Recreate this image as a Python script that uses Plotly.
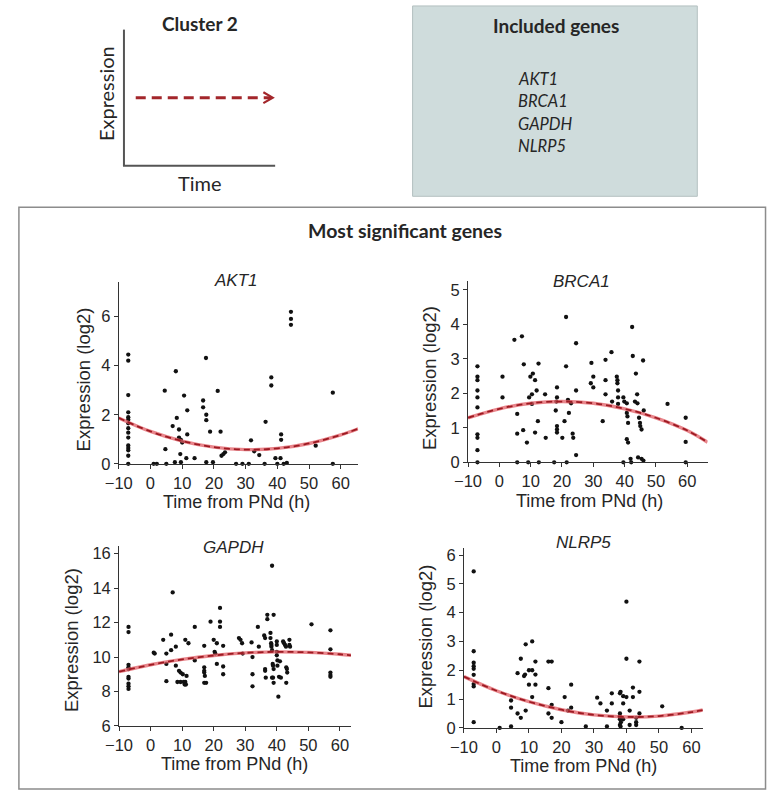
import plotly.graph_objects as go

W, H = 767, 801


def fx(p):
    return p / W


def fy(p):
    return 1 - p / H


# ---------------- data ----------------
gene_list = ["AKT1", "BRCA1", "GAPDH", "NLRP5"]
x_ticks = [-10, 0, 10, 20, 30, 40, 50, 60]

akt1_time = [-7] * 15 + [
    1, 2, 4.5, 4.7, 5, 7, 8, 8.3, 7.7, 9, 9, 9.6, 9.4, 9.6, 10.6, 10, 11.6, 11.6, 11.3,
    13.9, 16.6, 16.6, 17.5, 17.6, 17.6, 18.8, 17.6, 19.7, 21.2, 22.1, 22.4, 23, 23.5,
    27, 29, 31, 31.7, 32.7, 34.3, 36, 36.3, 38.1, 38.1, 39.4, 40, 41, 41.2, 41.2, 42, 43,
    44.3, 44.3, 44.3, 52.1, 57.5, 57.5]
akt1_expr = [4.45, 4.2, 2.8, 2.1, 1.9, 1.8, 1.65, 1.45, 1.27, 1.07, 0.75, 0.65, 0.55, 0.33, 0] + [
    0, 0, 2.98, 0.6, 0, 1.54, 3.77, 1.87, 0.07, 1.4, 1.07, 0.98, 0.4, 0.07, 2.78, 0.87, 2.18, 1.2, 0.23,
    0.23, 2.58, 2.3, 4.31, 2.0, 1.78, 1.31, 0.07, 0.07, 2.97, 1.31, 0.33, 0.4, 0.47,
    0, 0, 0, 0.96, 0.51, 0.36, 0, 1.71, 3.52, 3.19, 0.23, 0, 0.23, 1.2, 0.98, 0, 0.04,
    6.19, 5.9, 5.66, 0.74, 2.9, 0]
akt1_fit_time = [-10, 0, 10, 20, 30, 40, 50, 60, 65.5]
akt1_fit_expr = [1.87, 1.32, 0.93, 0.68, 0.58, 0.63, 0.83, 1.18, 1.43]

brca1_time = [-7] * 10 + [
    1, 1, 4.8, 5.7, 5.7, 5.7, 7.2, 7.8, 7.6, 8.8, 9.2, 9.5, 9.9, 10.7, 10.4, 10.4, 11.4, 11.9,
    12.5, 12.3, 11.4, 12.6, 14.6, 14.8, 17.5, 18.4, 18.4, 18.2, 18, 18.4, 18.4, 18.4, 20.1,
    21.3, 21.3, 20.8, 22.2, 21.9, 22.9, 23.4, 23.6, 24.5, 24.5, 24.5, 21.5,
    29.4, 29.2, 30, 30, 33, 33.9, 33.9, 33.9, 35.8, 36, 37.5, 37.7, 37.7, 37.9, 37.9, 37.9,
    39.6, 39.9, 40.7, 40.7, 40.9, 41.1, 40.7, 41.1, 39.6, 41.9, 42.1, 42.4, 42.6, 43.3, 43.6,
    44, 44.1, 44.3, 44.6, 44.9, 45, 45.4, 45.4, 45.9, 46.1, 46, 53.7, 59.5, 59.5, 59.5]
brca1_expr = [2.78, 2.48, 2.38, 2.08, 1.88, 1.59, 0.81, 0.71, 0.35, 0] + [
    2.48, 1.88, 3.55, 1.4, 0.83, 0, 3.65, 2.84, 0.93, 0.57, 0, 1.88, 2.48, 2.57, 1.97, 1.69, 2.38, 2.08,
    2.86, 1.19, 0.86, 0, 1.97, 0.71, 0, 2.17, 1.88, 1.76, 1.5, 1.05, 0.95, 0.86, 0.71,
    4.21, 2.78, 1.19, 1.43, 1.81, 1.71, 0.83, 0.71, 3.45, 2.08, 0.21, 0,
    2.88, 2.29, 2.48, 2.17, 1.19, 2.97, 2.38, 1.97, 3.19, 1.76, 2.48, 2.38, 2.29, 2.08, 1.88, 1.69,
    1.88, 1.76, 1.71, 1.43, 1.33, 1.14, 0.67, 0.57, 0, 0.1, 0, 3.92, 3.08, 1.76, 2.57,
    1.97, 1.71, 0.14, 1.29, 1.14, 1.05, 0.95, 0.1, 2.95, 1.5, 0.05, 1.69, 1.29, 0.59, 0]
brca1_fit_time = [-10, 0, 10, 20, 30, 40, 50, 60, 66.5]
brca1_fit_expr = [1.29, 1.55, 1.71, 1.76, 1.71, 1.55, 1.29, 0.92, 0.58]

gapdh_time = [-7] * 10 + [
    1, 1.3, 4, 5, 5, 5, 6.5, 6.5, 7, 8, 8, 8.5, 9.5, 10.5, 11, 10.8, 11.2, 9, 9.5, 10.2,
    11, 11.4, 12, 14, 14, 17, 17, 17, 17, 17.2, 17, 17.6, 19, 20, 20.3, 20.5, 21, 21,
    22, 22, 22, 23, 23, 23, 28, 28.5, 29, 29.2, 32, 32.3, 32.3, 32.3, 34, 34.3,
    36, 36.3, 36.3, 36.3, 36.5, 37, 37, 38, 38, 38.2, 38.3, 38.3, 38.5, 38.5, 39,
    38.7, 38.8, 39, 38.5, 38.8, 39, 40, 40, 40, 40, 40.2, 40.2, 40.5, 40.7, 41, 41.3,
    42, 42.3, 42.6, 42.9, 43, 43.2, 43.3, 43, 44, 44, 44.2, 51, 57, 57, 57, 57, 57]
gapdh_expr = [11.75, 11.45, 9.55, 9.4, 9.3, 8.85, 8.75, 8.45, 8.3, 8.15] + [
    10.25, 10.2, 11.0, 10.2, 9.6, 8.6, 11.3, 10.4, 13.75, 10.6, 9.5, 8.55, 8.55, 8.55, 8.55, 8.4, 8.4, 9.2, 9.1, 9.0,
    11.0, 8.9, 10.8, 11.75, 9.8, 10.65, 9.4, 9.2, 9.1, 8.9, 8.5, 8.5, 12.05, 11.0, 10.3, 10.2, 10.8, 9.6,
    12.85, 12.05, 11.75, 10.65, 9.45, 9.0, 11.1, 11.0, 10.8, 10.2, 10.85, 10.0, 9.0, 8.3, 11.75, 10.6,
    11.25, 11.1, 9.3, 9.2, 8.8, 12.45, 12.2, 11.4, 11.1, 10.8, 10.7, 10.6, 10.4, 15.3, 12.45,
    9.6, 9.5, 9.3, 8.8, 8.8, 8.5, 10.9, 10.7, 10.3, 10.1, 9.8, 9.5, 7.7, 8.85, 9.75, 8.8,
    10.9, 10.8, 10.7, 10.6, 9.4, 9.3, 9.1, 8.5, 11.0, 10.7, 10.6, 11.9, 11.55, 10.45, 9.1, 8.95, 8.85]
gapdh_fit_time = [-10, 0, 10, 20, 30, 40, 50, 60, 63.5]
gapdh_fit_expr = [9.15, 9.55, 9.86, 10.09, 10.24, 10.3, 10.27, 10.16, 10.1]

nlrp5_time = [-7] * 9 + [
    1, 4.5, 4.5, 4.5, 6.5, 6.5, 7.5, 7.5, 8.5, 8.8, 9, 9, 10, 10, 11, 11, 11, 12, 12, 12,
    16, 16, 16, 17, 17, 17, 20, 21, 22, 23, 23, 27.5, 31, 32, 34, 34, 35.5, 35.5,
    38, 38.2, 38, 38, 38.2, 38, 38.3, 38, 38.2, 39, 39, 39, 40, 40, 40, 41, 41, 42, 42,
    43, 43, 43, 44, 44, 44, 51, 57]
nlrp5_expr = [5.43, 2.66, 2.26, 2.14, 2.05, 1.84, 1.52, 1.44, 0.2] + [
    0, 0.05, 0.95, 0.7, 1.9, 0.5, 2.4, 0.35, 1.8, 1.85, 2.9, 0.6, 2.0, 1.5, 3.0, 2.0, 1.07, 2.3, 1.85, 1.5,
    2.3, 1.38, 0.5, 2.3, 0.8, 0.35, 0.2, 1.07, 0.6, 1.5, 0.7, 0.05, 1.05, 0.85, 0.6, 0.05, 1.2, 0.85,
    1.2, 1.25, 0.5, 0.4, 0.35, 0.3, 0.2, 0.1, 0.05, 1.1, 0.85, 0.3, 4.38, 2.4, 1.07, 0.6, 0.1, 1.4, 1.07,
    0.35, 0.2, 0.1, 2.3, 1.25, 0.5, 0.75, 0]
nlrp5_fit_time = [-10, 0, 10, 20, 30, 40, 50, 60, 63.5]
nlrp5_fit_expr = [1.78, 1.29, 0.91, 0.63, 0.45, 0.38, 0.41, 0.55, 0.62]

akt1_yticks = [0, 2, 4, 6]
brca1_yticks = [0, 1, 2, 3, 4, 5]
gapdh_yticks = [6, 8, 10, 12, 14, 16]
nlrp5_yticks = [0, 1, 2, 3, 4, 5, 6]

# ---------------- layout of panels ----------------
AX_FONT = "Liberation Sans, Arial, sans-serif"
OFF_FONT = "Lato, Open Sans, sans-serif"
TXT = "#262626"

panels = [
    dict(name=gene_list[0], t=akt1_time, e=akt1_expr, ft=akt1_fit_time, fe=akt1_fit_expr,
         xr=[-10, 65.5], yr=[0, 7.4], yt=akt1_yticks,
         px=(106.7, 350.6), py=(284, 468.3), title=(226, 282), xt=(227, 507), yti=(71, 383)),
    dict(name=gene_list[1], t=brca1_time, e=brca1_expr, ft=brca1_fit_time, fe=brca1_fit_expr,
         xr=[-10, 66.5], yr=[0, 5.25], yt=brca1_yticks,
         px=(462.5, 706.5), py=(283, 466.7), title=(578, 283), xt=(586, 506), yti=(423, 381)),
    dict(name=gene_list[2], t=gapdh_time, e=gapdh_expr, ft=gapdh_fit_time, fe=gapdh_fit_expr,
         xr=[-10, 63.5], yr=[6, 16.45], yt=gapdh_yticks,
         px=(107, 343.2), py=(551.5, 734), title=(224, 553), xt=(225, 773), yti=(58, 647)),
    dict(name=gene_list[3], t=nlrp5_time, e=nlrp5_expr, ft=nlrp5_fit_time, fe=nlrp5_fit_expr,
         xr=[-10, 63.5], yr=[0, 6.25], yt=nlrp5_yticks,
         px=(458.3, 701.6), py=(553.4, 736), title=(580, 548), xt=(580, 775), yti=(419, 643)),
]

fig = go.Figure()
annotations = []
layout_axes = {}

for i, p in enumerate(panels, start=1):
    xa = "x" if i == 1 else f"x{i}"
    ya = "y" if i == 1 else f"y{i}"
    fig.add_trace(go.Scatter(
        x=p["t"], y=p["e"], mode="markers", xaxis=xa, yaxis=ya,
        marker=dict(size=4.3, color="#111111"), cliponaxis=False, showlegend=False,
        hoverinfo="skip"))
    fig.add_trace(go.Scatter(
        x=p["ft"], y=p["fe"], mode="lines", xaxis=xa, yaxis=ya, line_shape="spline",
        line=dict(color="rgba(226,92,100,0.75)", width=3.4), cliponaxis=False,
        showlegend=False, hoverinfo="skip"))
    fig.add_trace(go.Scatter(
        x=p["ft"], y=p["fe"], mode="lines", xaxis=xa, yaxis=ya, line_shape="spline",
        line=dict(color="#9c1a22", width=1.8, dash="6px,4px"), cliponaxis=False,
        showlegend=False, hoverinfo="skip"))
    xkey = "xaxis" if i == 1 else f"xaxis{i}"
    ykey = "yaxis" if i == 1 else f"yaxis{i}"
    common = dict(showline=True, linecolor="#333333", linewidth=1, ticks="outside",
                  ticklen=4, tickwidth=1, tickcolor="#333333", showgrid=False,
                  zeroline=False, tickfont=dict(family=AX_FONT, size=16.5, color=TXT),
                  fixedrange=True)
    layout_axes[xkey] = dict(common, domain=[fx(p["px"][0]), fx(p["px"][1])],
                             range=p["xr"], tickvals=x_ticks, anchor=ya)
    layout_axes[ykey] = dict(common, domain=[fy(p["py"][1]), fy(p["py"][0])],
                             range=p["yr"], tickvals=p["yt"], anchor=xa)
    annotations.append(dict(text=f"<i>{p['name']}</i>", x=fx(p["title"][0]), y=fy(p["title"][1]),
                            font=dict(family=AX_FONT, size=17, color=TXT)))
    annotations.append(dict(text="Time from PNd (h)", x=fx(p["xt"][0]), y=fy(p["xt"][1]),
                            font=dict(family=AX_FONT, size=18, color=TXT)))
    annotations.append(dict(text="Expression (log2)", x=fx(p["yti"][0]), y=fy(p["yti"][1]),
                            textangle=-90, font=dict(family=AX_FONT, size=18.5, color=TXT)))

# ---------------- header texts ----------------
annotations += [
    dict(text="<b>Cluster 2</b>", x=fx(189), y=fy(22), font=dict(family=OFF_FONT, size=19, color=TXT)),
    dict(text="Expression", x=fx(93), y=fy(93), textangle=-90,
         font=dict(family=OFF_FONT, size=20, color=TXT)),
    dict(text="Time", x=fx(189), y=fy(184), font=dict(family=OFF_FONT, size=20, color=TXT)),
    dict(text="<b>Included genes</b>", x=fx(552), y=fy(24), font=dict(family=OFF_FONT, size=19, color=TXT)),
    dict(text="<b>Most significant genes</b>", x=fx(398), y=fy(232),
         font=dict(family=OFF_FONT, size=19.5, color=TXT)),
]
for k, g in enumerate(gene_list):
    annotations.append(dict(text=f"<i>{g}</i>", x=fx(511), y=fy(78 + k * 22.6), xanchor="left",
                            font=dict(family=OFF_FONT, size=16.5, color=TXT)))
for a in annotations:
    a.setdefault("xref", "paper")
    a.setdefault("yref", "paper")
    a.setdefault("showarrow", False)
    a.setdefault("xanchor", "center")
    a.setdefault("yanchor", "middle")

# ---------------- shapes ----------------
shapes = [
    dict(type="rect", xref="paper", yref="paper", x0=fx(406), x1=fx(696), y0=fy(197), y1=fy(4),
         fillcolor="#cfdcdc", line=dict(color="#b3c0c0", width=1), layer="below"),
    dict(type="rect", xref="paper", yref="paper", x0=fx(5), x1=fx(765.5), y0=fy(798), y1=fy(208),
         fillcolor="rgba(0,0,0,0)", line=dict(color="#8c8c8c", width=1.5), layer="below"),
    dict(type="line", xref="paper", yref="paper", x0=fx(112), x1=fx(112), y0=fy(28), y1=fy(166),
         line=dict(color="#555555", width=2)),
    dict(type="line", xref="paper", yref="paper", x0=fx(111), x1=fx(266), y0=fy(166), y1=fy(166),
         line=dict(color="#555555", width=2)),
    dict(type="line", xref="paper", yref="paper", x0=fx(124), x1=fx(262), y0=fy(97), y1=fy(97),
         line=dict(color="#a3262b", width=3, dash="10px,6px")),
    dict(type="path", xref="paper", yref="paper",
         path=f"M {fx(254)} {fy(91.5)} L {fx(263.5)} {fy(97)} L {fx(254)} {fy(102.5)}",
         line=dict(color="#a3262b", width=2.2)),
]

fig.update_layout(
    width=W, height=H, margin=dict(l=0, r=0, t=0, b=0),
    paper_bgcolor="white", plot_bgcolor="rgba(0,0,0,0)",
    showlegend=False, annotations=annotations, shapes=shapes,
    **layout_axes,
)

fig.write_html("out.html")
